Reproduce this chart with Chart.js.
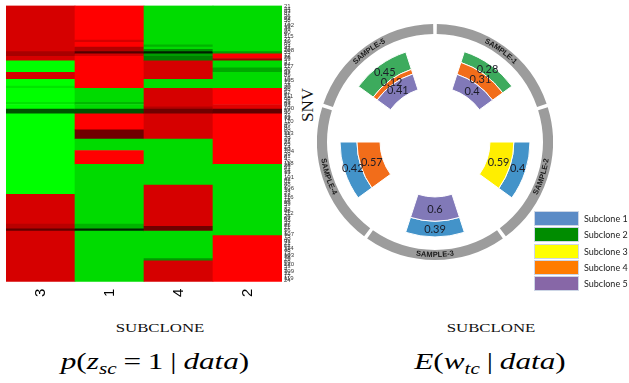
<!DOCTYPE html>
<html>
<head>
<meta charset="utf-8">
<script src="https://cdn.jsdelivr.net/npm/chart.js@4.4.1/dist/chart.umd.min.js"></script>
<style>
  html, body { margin: 0; padding: 0; background: #fff; }
  body { width: 629px; height: 383px; position: relative; overflow: hidden; }
  #heat { position: absolute; left: 0; top: 0; }
  #rose { position: absolute; left: 317px; top: 24px; }
  .snv { position: absolute; left: 307px; top: 105px; transform: translate(-50%, -50%) rotate(-90deg);
         font: 17px "Liberation Serif"; color: #111; white-space: nowrap; line-height: 17px; }
  .xlab { position: absolute; top: 322px; font: 12px "Liberation Serif"; line-height: 12px; color: #111;
          transform: translateX(-50%) scaleX(1.4); white-space: nowrap; }
  .formula { position: absolute; top: 349px; font: 24px "Liberation Serif"; line-height: 24px; color: #000;
             transform: translateX(-50%) scaleX(1.3); white-space: nowrap; }
  .formula sub { font-size: 0.68em; vertical-align: -0.3em; line-height: 0; }
  .op { margin: 0 0.22em; }
  #legend { position: absolute; left: 534px; top: 211px; }
  #legend div { height: 15px; margin-bottom: 1.25px; display: flex; align-items: center;
                font: 9px Lato; color: #222; white-space: nowrap; }
  #legend .box { width: 45px; height: 15px; box-sizing: border-box; border: 1px solid #cdd6e6; margin-right: 5px; }
</style>
</head>
<body>
<canvas id="heat" width="296" height="304"></canvas>
<div class="snv">SNV</div>
<canvas id="rose" width="236" height="236"></canvas>
<div id="legend"></div>
<div class="xlab" style="left:160px">SUBCLONE</div>
<div class="xlab" style="left:491px">SUBCLONE</div>
<div class="formula" style="left:155px"><i>p</i>(<i>z</i><sub><i>sc</i></sub><span class="op">=</span>1<span class="op">|</span><i>data</i>)</div>
<div class="formula" style="left:490px"><i>E</i>(<i>w</i><sub><i>tc</i></sub><span class="op">|</span><i>data</i>)</div>

<script>
// ---- p(z_sc = 1 | data): heatmap of SNV membership per subclone ----
const subcloneCols = ['3', '1', '4', '2'];

const snvIds = [
  21, 44, 63, 87, 36, 92, 58, 71, 102, 33, 49, 80, 5, 115, 27, 10, 66, 94, 41, 108,
  55, 12, 76, 99, 3, 84, 117, 30, 61, 47, 89, 16, 105, 72, 38, 20, 96, 52, 8, 111,
  68, 25, 83, 43, 100, 57, 90, 31, 19, 74, 110, 46, 6, 86, 60, 113, 35, 79, 97, 23,
  65, 14, 50, 104, 39, 81, 9, 70, 118, 28, 93, 54, 15, 77, 101, 42, 62, 88, 2, 106,
  34, 73, 51, 116, 18, 95, 59, 7, 82, 45, 112, 26, 67, 98, 37, 85, 11, 56, 1, 107,
  75, 40, 91, 22, 64, 114, 48, 13, 103, 78, 29, 69, 120, 53, 4, 109, 32, 17, 119, 24
];

// runs of consecutive SNV rows (top to bottom) and their probability, per subclone column
const rowsSub3 = [20, 2, 2, 5, 3, 3, 1, 6, 1, 2, 2, 35, 13, 2, 1, 22];
const probSub3 = [0.08, 0.17, 0.08, 1.00, 0.08, 1.00, 0.95, 1.00, 0.95, 1.00, 0.66, 1.00, 0.08, 0.14, 0.31, 0.08];

const rowsSub1 = [15, 1, 2, 2, 1, 1, 14, 6, 1, 2, 2, 7, 4, 5, 6, 26, 2, 1, 22];
const probSub1 = [0.00, 0.08, 0.00, 0.15, 0.34, 0.09, 0.00, 0.93, 0.86, 0.93, 0.66, 0.00, 0.28, 0.93, 0.00, 0.93, 0.85, 0.57, 0.93];

const rowsSub4 = [17, 1, 1, 1, 1, 1, 2, 8, 4, 8, 1, 2, 11, 20, 18, 2, 12, 1, 9];
const probSub4 = [0.93, 0.85, 0.93, 0.78, 0.56, 0.81, 0.75, 0.08, 0.93, 0.08, 0.15, 0.28, 0.08, 0.93, 0.08, 0.28, 0.93, 0.80, 0.08];

const rowsSub2 = [20, 1, 2, 1, 3, 2, 7, 7, 2, 2, 22, 31, 20];
const probSub2 = [0.93, 0.81, 0.00, 0.18, 0.93, 0.83, 0.93, 0.00, 0.06, 0.31, 0.00, 0.93, 0.00];

// red (0) -> black (0.5) -> green (1)
function probColor(p) {
  if (p < 0.5) return `rgb(${Math.round(255 * (1 - 2 * p))},0,0)`;
  return `rgb(0,${Math.round(255 * (2 * p - 1))},0)`;
}

const cells = [];
const cellColors = [];
[['3', rowsSub3, probSub3], ['1', rowsSub1, probSub1], ['4', rowsSub4, probSub4], ['2', rowsSub2, probSub2]]
  .forEach(([col, rows, probs]) => {
    let top = 0;
    rows.forEach((n, k) => {
      cells.push({ x: col, y: [top, top + n] });
      cellColors.push(probColor(probs[k]));
      top += n;
    });
  });

new Chart(document.getElementById('heat'), {
  type: 'bar',
  data: {
    labels: subcloneCols,
    datasets: [{
      data: cells,
      backgroundColor: cellColors,
      barPercentage: 1,
      categoryPercentage: 1,
      borderWidth: 0
    }]
  },
  options: {
    responsive: false,
    animation: false,
    events: [],
    layout: { padding: { left: 6, top: 5, right: 0, bottom: 0 } },
    plugins: { legend: { display: false }, tooltip: { enabled: false } },
    scales: {
      x: {
        grid: { display: false, drawTicks: false },
        border: { display: false },
        ticks: { minRotation: 90, maxRotation: 90, padding: 7, color: '#000',
                 font: { family: 'Liberation Sans', size: 15 } }
      },
      y: { display: false, min: 0, max: snvIds.length, reverse: true },
      snv: {
        type: 'category',
        labels: snvIds,
        position: 'right',
        offset: true,
        grid: { display: false, drawTicks: false },
        border: { display: false },
        ticks: { autoSkip: false, padding: 2, color: '#3a3a3a',
                 font: { family: 'Liberation Sans', size: 6 } }
      }
    }
  }
});

// ---- E(w_tc | data): subclone weights per sample ----
const samples = ['SAMPLE-1', 'SAMPLE-2', 'SAMPLE-3', 'SAMPLE-4', 'SAMPLE-5'];
const subclones = ['Subclone 1', 'Subclone 2', 'Subclone 3', 'Subclone 4', 'Subclone 5'];
const wSubclone1 = [null, 0.4, 0.39, 0.42, null];
const wSubclone2 = [0.28, null, null, null, 0.45];
const wSubclone3 = [null, 0.59, null, null, null];
const wSubclone4 = [0.31, null, null, 0.57, 0.12];
const wSubclone5 = [0.4, null, 0.6, null, 0.41];
const ringDepth = [0.25, 0.25, 0.25, 0.25, 0.25];

const wedgeColors = ['#4393c9', '#3dab5d', '#ffee00', '#f26d1a', '#8179b8'];
const legendColors = ['#5b8bc6', '#008c00', '#ffff00', '#ff7c00', '#8767a7'];

// Polar-area variant: each dataset is one layer of a radial stack, drawn as a
// sector of fixed angular spread around its label's direction.
class RoseStackController extends Chart.PolarAreaController {
  updateElements(arcs, start, count, mode) {
    const scale = this._cachedMeta.rScale;
    const ds = this.getDataset();
    const all = this.chart.data.datasets;
    const sector = (Math.PI * 2) / this.chart.data.labels.length;
    const half = (sector * (ds.spread ?? 1)) / 2;
    for (let i = start; i < start + count; i++) {
      let base = ds.base ?? 0;
      if (ds.stack) {
        for (let d = 0; d < this.index; d++) {
          if (all[d].stack === ds.stack && all[d].data[i] != null) base += all[d].data[i];
        }
      }
      const v = this.getParsed(i).r;
      const present = v !== null && v !== undefined && !isNaN(v);
      const mid = scale.getIndexAngle(i) - Math.PI / 2;
      const startAngle = mid - half;
      const endAngle = present ? mid + half : startAngle;
      this.updateElement(arcs[i], i, {
        x: scale.xCenter,
        y: scale.yCenter,
        innerRadius: scale.getDistanceFromCenterForValue(base),
        outerRadius: scale.getDistanceFromCenterForValue(base + (present ? v : 0)),
        startAngle,
        endAngle,
        circumference: endAngle - startAngle,
        options: this.resolveDataElementOptions(i, mode)
      }, mode);
    }
  }
}
RoseStackController.id = 'roseStack';
RoseStackController.defaults = Chart.PolarAreaController.defaults;
RoseStackController.overrides = Chart.PolarAreaController.overrides;
Chart.register(RoseStackController);

const roseText = {
  id: 'roseText',
  afterDatasetsDraw(chart) {
    const ctx = chart.ctx;
    const scale = chart.scales.r;
    ctx.save();
    ctx.textAlign = 'center';
    ctx.textBaseline = 'middle';

    // weight values in the middle of each band
    ctx.font = '11px Lato';
    ctx.fillStyle = '#1c1c28';
    chart.data.datasets.forEach((ds, d) => {
      if (ds.stack !== 'w') return;
      chart.getDatasetMeta(d).data.forEach((arc, i) => {
        const v = ds.data[i];
        if (v == null) return;
        const p = arc.getCenterPoint();
        ctx.fillText(String(v), p.x, p.y);
      });
    });

    // sample names bent along the outer ring
    ctx.font = 'bold 7.5px "Liberation Sans"';
    ctx.fillStyle = '#1a1a1a';
    const ring = chart.data.datasets[0];
    const r = scale.getDistanceFromCenterForValue(ring.base + ring.data[0] / 2);
    chart.data.labels.forEach((name, i) => {
      const mid = scale.getIndexAngle(i) - Math.PI / 2;
      const upper = Math.sin(mid) < 0;
      const total = ctx.measureText(name).width;
      const s = upper ? mid - total / (2 * r) : mid + total / (2 * r);
      let off = 0;
      for (const ch of name) {
        const w = ctx.measureText(ch).width;
        const a = upper ? s + (off + w / 2) / r : s - (off + w / 2) / r;
        ctx.save();
        ctx.translate(scale.xCenter + r * Math.cos(a), scale.yCenter + r * Math.sin(a));
        ctx.rotate(upper ? a + Math.PI / 2 : a - Math.PI / 2);
        ctx.fillText(ch, 0, 0);
        ctx.restore();
        off += w;
      }
    });
    ctx.restore();
  }
};

const weights = [wSubclone1, wSubclone2, wSubclone3, wSubclone4, wSubclone5];
// innermost layer is subclone 5, outermost subclone 1
const layerOrder = [4, 3, 2, 1, 0];

new Chart(document.getElementById('rose'), {
  type: 'roseStack',
  data: {
    labels: samples,
    datasets: [
      { label: 'samples', data: ringDepth, base: 1.31, spread: 0.975,
        backgroundColor: '#9c9c9c', borderWidth: 0 },
      ...layerOrder.map(k => ({
        label: subclones[k], data: weights[k], stack: 'w', spread: 0.5,
        backgroundColor: wedgeColors[k], borderColor: '#ffffff', borderWidth: 1
      }))
    ]
  },
  options: {
    responsive: false,
    animation: false,
    events: [],
    layout: { padding: 0 },
    plugins: { legend: { display: false }, tooltip: { enabled: false } },
    scales: {
      r: {
        min: -1.36,
        max: 1.56,
        startAngle: 36,
        ticks: { display: false },
        grid: { display: false },
        angleLines: { display: false },
        pointLabels: { display: false }
      }
    }
  },
  plugins: [roseText]
});

const legendBox = document.getElementById('legend');
subclones.forEach((name, k) => {
  const row = document.createElement('div');
  const box = document.createElement('span');
  box.className = 'box';
  box.style.background = legendColors[k];
  const txt = document.createElement('span');
  txt.textContent = name;
  row.appendChild(box);
  row.appendChild(txt);
  legendBox.appendChild(row);
});
</script>
</body>
</html>
